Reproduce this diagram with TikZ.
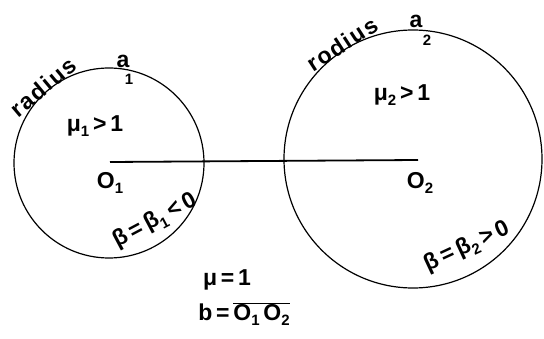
\documentclass[tikz,border=0pt]{standalone}
\usepackage{fontspec}
\setmainfont{Liberation Sans}
\newcommand{\lowsub}[1]{\raisebox{-0.45ex}{\fontsize{15}{16}\selectfont #1}}
\newcommand{\spread}[1]{\addfontfeature{LetterSpace=8}#1}
\begin{document}
\begin{tikzpicture}[x=1pt,y=-1pt,
  ring/.style={draw=black,line width=1.2pt,circle,inner sep=0pt},
  lbl/.style={font=\fontsize{23}{26}\selectfont\bfseries,inner sep=0pt},
  sublbl/.style={font=\fontsize{15}{16}\selectfont\bfseries,inner sep=0pt},
  axis/.style={line width=1.8pt}]
\useasboundingbox (0,0) rectangle (544,339);
\node[ring,minimum size=190pt] (c1) at (109,163) {};
\node[ring,minimum size=258pt] (c2) at (413,159) {};
\coordinate (O1) at (110,162);
\coordinate (O2) at (418,160);
\draw[axis] (O1) -- (O2);
% left circle labels
\node[lbl,rotate=40] (r1) at (43,87) {\spread{radius}};
\node[lbl] (a1) at (123,61) {a};
\node[sublbl] (a1s) at (129,79) {1};
\node[lbl] (m1) at (95,126) {μ\lowsub{1}\,>\,1};
\node[lbl] (o1) at (110,183) {O\lowsub{1}};
\node[lbl,rotate=28] (b1) at (155,221) {β\,=\,β\lowsub{1}\,<\,0};
% right circle labels
\node[lbl,rotate=33] (r2) at (342,44) {\spread{rodius}};
\node[lbl] (a2) at (416,21) {a};
\node[sublbl] (a2s) at (427,40) {2};
\node[lbl] (m2) at (402,95) {μ\lowsub{2}\,>\,1};
\node[lbl] (o2) at (420,183) {O\lowsub{2}};
\node[lbl,rotate=25] (b2) at (467,247) {β\,=\,β\lowsub{2}\,>\,0};
% bottom labels
\node[lbl] (mu) at (227,280) {μ\,=\,1};
\node[lbl] (b) at (244,314) {b\,=\,$\overline{\hbox{O\lowsub{1}\,O\lowsub{2}}}$};
\end{tikzpicture}
\end{document}
